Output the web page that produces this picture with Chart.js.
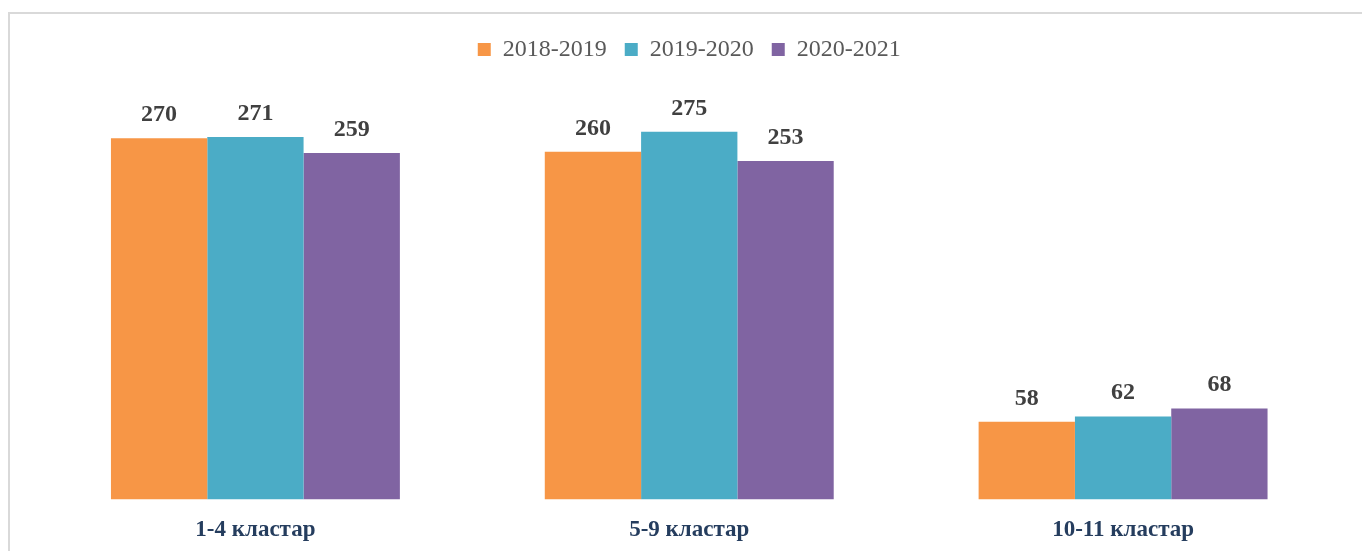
<!DOCTYPE html>
<html>
<head>
<meta charset="utf-8">
<script src="https://cdn.jsdelivr.net/npm/chart.js@4/dist/chart.umd.min.js"></script>
<style>
  html, body { margin: 0; padding: 0; background: #ffffff; overflow: hidden; }
  #wrap { position: relative; width: 1362px; height: 551px; overflow: hidden; }
  #frame { position: absolute; left: 8px; top: 12px; width: 1400px; height: 600px;
           border-top: 2px solid #d9d9d9; border-left: 2px solid #d9d9d9; }
  canvas { position: absolute; left: 0; top: 0; }
</style>
</head>
<body>
<div id="wrap">
  <div id="frame"></div>
  <canvas id="c" width="1362" height="551"></canvas>
</div>
<script>
const categories = ["1-4 кластар", "5-9 кластар", "10-11 кластар"];
const seriesNames = ["2018-2019", "2019-2020", "2020-2021"];
const values2018 = [270, 260, 58];
const values2019 = [271, 275, 62];
const values2020 = [259, 253, 68];
const seriesColors = ["#F79646", "#4BACC6", "#8064A2"];

const valueLabels = {
  id: "valueLabels",
  afterDatasetsDraw(chart) {
    const ctx = chart.ctx;
    ctx.save();
    ctx.font = "bold 24px 'Liberation Serif', 'Times New Roman', serif";
    ctx.fillStyle = "#404040";
    ctx.textAlign = "center";
    ctx.textBaseline = "alphabetic";
    chart.data.datasets.forEach((ds, i) => {
      const meta = chart.getDatasetMeta(i);
      meta.data.forEach((el, j) => {
        ctx.fillText(String(ds.data[j]), el.x, el.y - 17);
      });
    });
    ctx.restore();
  }
};

new Chart(document.getElementById("c"), {
  type: "bar",
  data: {
    labels: categories,
    datasets: [
      { label: seriesNames[0], data: values2018, backgroundColor: seriesColors[0] },
      { label: seriesNames[1], data: values2019, backgroundColor: seriesColors[1] },
      { label: seriesNames[2], data: values2020, backgroundColor: seriesColors[2] }
    ]
  },
  options: {
    responsive: false,
    animation: false,
    devicePixelRatio: 1,
    layout: { padding: { top: 19.5, bottom: -10, left: 38.5, right: 22 } },
    datasets: { bar: { categoryPercentage: 0.666, barPercentage: 1.0 } },
    plugins: {
      legend: {
        position: "top",
        labels: {
          boxWidth: 13, boxHeight: 13, padding: 18,
          color: "#595959",
          font: { family: "'Liberation Serif', 'Times New Roman', serif", size: 24 }
        }
      },
      tooltip: { enabled: false }
    },
    scales: {
      x: {
        grid: { display: false, drawTicks: false },
        border: { display: false },
        ticks: {
          padding: 17,
          color: "#253d5e",
          font: { family: "'Liberation Serif', 'Times New Roman', serif", size: 23, weight: "bold" }
        }
      },
      y: {
        display: false,
        min: 0,
        max: 320
      }
    }
  },
  plugins: [valueLabels]
});
</script>
</body>
</html>
